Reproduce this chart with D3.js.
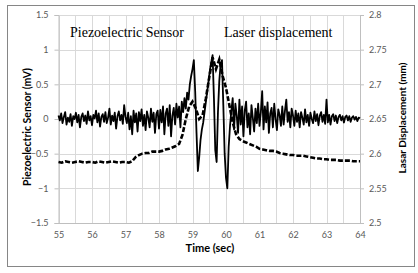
<!DOCTYPE html>
<html>
<head>
<meta charset="utf-8">
<script src="https://cdn.jsdelivr.net/npm/d3@7"></script>
<style>
  body { margin: 0; background: #fff; }
  .tick text { font-family: Lato, "Open Sans", sans-serif; font-size: 9px; fill: #595959; }
</style>
</head>
<body>
<div id="chart"></div>
<script>
// time axis ticks and grid
const timeTicks = [55, 56, 57, 58, 59, 60, 61, 62, 63, 64];
const voltTicks = [-1.5, -1, -0.5, 0, 0.5, 1, 1.5];
const dispTicks = [2.5, 2.55, 2.6, 2.65, 2.7, 2.75, 2.8];

// piezo sensor (mV), sampled every 0.04 s from 55 s
const piezoStart = 55, piezoStep = 0.04;
const piezo = [
  0.05, -0.02, 0.08, -0.06, 0.03, 0.10, -0.08, 0.02, -0.04, 0.07, -0.10, 0.04, 0.00, 0.09, -0.05, 0.06, -0.12, 0.03, 0.08, -0.03, 0.05, -0.07, 0.11, -0.02, 0.04,
  -0.09, 0.06, 0.01, 0.12, -0.05, 0.08, -0.11, 0.03, 0.07, -0.04, 0.10, -0.06, 0.02, 0.15, -0.08, 0.05, -0.03, 0.09, -0.14, 0.04, 0.11, -0.02, 0.06, -0.07, 0.20,
  0.03, -0.06, 0.09, -0.15, 0.04, -0.22, 0.12, -0.05, 0.08, -0.18, 0.10, -0.03, 0.14, -0.10, 0.06, -0.16, 0.11, 0.02, -0.12, 0.15, -0.04, 0.09, -0.20, 0.07, 0.12,
  -0.14, 0.13, -0.05, 0.18, -0.22, 0.08, 0.15, -0.10, 0.20, -0.25, 0.05, 0.16, -0.08, 0.22, 0.02, 0.18, -0.12, 0.25, 0.10, 0.30, 0.15, 0.38, 0.28, 0.50, 0.62,
  0.72, 0.85, 0.40, -0.20, -0.75, -0.55, -0.30, -0.15, -0.05, 0.10, 0.25, 0.40, 0.55, 0.70, 0.82, 0.92, 0.30, -0.45, -0.62, 0.10,
  0.55, 0.80, 0.85, 0.20, -0.50, -0.85, -1.00, -0.40, -0.10, 0.12,
  0.30, -0.15, 0.22, 0.05, -0.20, 0.28, -0.08, 0.18, -0.25, 0.12, 0.25, -0.12, 0.08, -0.22, 0.20, 0.02, -0.18, 0.15, -0.06, 0.22,
  -0.10, 0.10, 0.40, -0.15, 0.18, -0.05, 0.24, -0.20, 0.08, 0.16, -0.12, 0.22, 0.00, -0.16, 0.14, 0.06, -0.10, 0.18, -0.08, 0.12, 0.28, -0.04, 0.10, -0.12, 0.15,
  0.05, -0.10, 0.12, -0.04, 0.08, -0.12, 0.10, 0.02, -0.08, 0.14, -0.05, 0.06, -0.10, 0.09, 0.00, -0.06, 0.11, -0.03, 0.07, -0.09, 0.05, 0.10, -0.04, 0.06, -0.07,
  0.28, -0.05, 0.06, -0.08, 0.04, 0.07, -0.03, 0.05, -0.06, 0.03, 0.06, -0.02, 0.04, -0.05, 0.03, 0.05, -0.02, 0.04, -0.04, 0.02, 0.04, -0.01, 0.03, -0.03, 0.02, 0.01
];

// laser displacement (mm), every 0.1 s from 55 s
const laserStart = 55, laserStep = 0.1;
const laser = [
  2.588, 2.587, 2.589, 2.588, 2.587, 2.588, 2.589, 2.588, 2.587, 2.588, 2.588, 2.587, 2.589, 2.588, 2.587, 2.588, 2.589, 2.588, 2.587, 2.588,
  2.588, 2.587, 2.589, 2.595, 2.598, 2.600, 2.601, 2.601, 2.603, 2.603,
  2.603, 2.604, 2.606, 2.607, 2.609, 2.611, 2.614, 2.627, 2.650, 2.668,
  2.675, 2.665, 2.650, 2.655, 2.680, 2.710, 2.739, 2.722, 2.736, 2.712,
  2.695, 2.670, 2.645, 2.628, 2.621, 2.618, 2.616, 2.614, 2.612, 2.610,
  2.607, 2.606, 2.605, 2.604, 2.604, 2.603, 2.601, 2.600, 2.599, 2.598,
  2.598, 2.597, 2.597, 2.597, 2.596, 2.595, 2.594, 2.593, 2.593, 2.592,
  2.592, 2.591, 2.591, 2.591, 2.590, 2.590, 2.590, 2.590, 2.589, 2.589, 2.589
];

const W = 418, H = 273;
const plot = {left: 58.5, right: 360, top: 15, bottom: 223};

const svg = d3.select("#chart").append("svg")
    .attr("width", W)
    .attr("height", H);

svg.append("rect")
    .attr("x", 7.5).attr("y", 5.5)
    .attr("width", 407).attr("height", 261)
    .attr("fill", "#fff")
    .attr("stroke", "#868686");

const x = d3.scaleLinear().domain([55, 64]).range([plot.left, plot.right]);
const y = d3.scaleLinear().domain([-1.5, 1.5]).range([plot.bottom, plot.top]);
const y2 = d3.scaleLinear().domain([2.5, 2.8]).range([plot.bottom, plot.top]);

// gridlines
const grid = svg.append("g").attr("stroke", "#d9d9d9").attr("stroke-width", 1);
const halfSec = d3.range(timeTicks[0], timeTicks[timeTicks.length - 1] + 0.001, 0.5);
grid.selectAll(".vg").data(halfSec).join("line")
    .attr("x1", d => Math.round(x(d)) + 0.5).attr("x2", d => Math.round(x(d)) + 0.5)
    .attr("y1", plot.top).attr("y2", plot.bottom);
grid.selectAll(".hg").data(voltTicks).join("line")
    .attr("x1", plot.left).attr("x2", plot.right)
    .attr("y1", d => Math.round(y(d)) + 0.5).attr("y2", d => Math.round(y(d)) + 0.5);

// axes
const yAxis = svg.append("g")
    .attr("transform", "translate(" + plot.left + ",0)")
    .call(d3.axisLeft(y).tickValues(voltTicks).tickSize(4).tickPadding(6).tickFormat(d3.format("")));
const y2Axis = svg.append("g")
    .attr("transform", "translate(" + plot.right + ",0)")
    .call(d3.axisRight(y2).tickValues(dispTicks).tickSize(4).tickPadding(5).tickFormat(d3.format("")));
const xAxis = svg.append("g")
    .attr("transform", "translate(0," + plot.bottom + ")")
    .call(d3.axisBottom(x).tickValues(timeTicks).tickSize(0).tickPadding(9).tickFormat(d3.format("d")));
[yAxis, y2Axis, xAxis].forEach(a => {
    a.select(".domain").attr("stroke", "#bfbfbf");
    a.selectAll(".tick line").attr("stroke", "#bfbfbf");
});

// piezo signal
const piezoLine = d3.line()
    .x((d, i) => x(piezoStart + i * piezoStep))
    .y(d => y(d));
svg.append("path")
    .datum(piezo)
    .attr("d", piezoLine)
    .attr("fill", "none")
    .attr("stroke", "#000")
    .attr("stroke-width", 1.8)
    .attr("stroke-linejoin", "round");

// laser displacement
const laserLine = d3.line()
    .x((d, i) => x(laserStart + i * laserStep))
    .y(d => y2(d));
svg.append("path")
    .datum(laser)
    .attr("d", laserLine)
    .attr("fill", "none")
    .attr("stroke", "#000")
    .attr("stroke-width", 2.6)
    .attr("stroke-dasharray", "5,2");

// series labels
svg.append("text")
    .attr("x", 70).attr("y", 37)
    .attr("font-family", "Liberation Serif, serif")
    .attr("font-size", "14px")
    .text("Piezoelectric Sensor");
svg.append("text")
    .attr("x", 224).attr("y", 37)
    .attr("font-family", "Liberation Serif, serif")
    .attr("font-size", "14px")
    .text("Laser displacement");

// axis titles
svg.append("text")
    .attr("transform", "translate(31,127) rotate(-90)")
    .attr("text-anchor", "middle")
    .attr("font-family", "Lato, sans-serif")
    .attr("font-weight", "bold")
    .attr("font-size", "10.5px")
    .text("Piezoelectric Sensor  (mV)");
svg.append("text")
    .attr("transform", "translate(406,118) rotate(-90)")
    .attr("text-anchor", "middle")
    .attr("font-family", "Lato, sans-serif")
    .attr("font-weight", "bold")
    .attr("font-size", "10px")
    .text("Lasar Displacement (mm)");
svg.append("text")
    .attr("x", 210).attr("y", 252)
    .attr("text-anchor", "middle")
    .attr("font-family", "Lato, sans-serif")
    .attr("font-weight", "bold")
    .attr("font-size", "11px")
    .text("Time (sec)");
</script>
</body>
</html>
